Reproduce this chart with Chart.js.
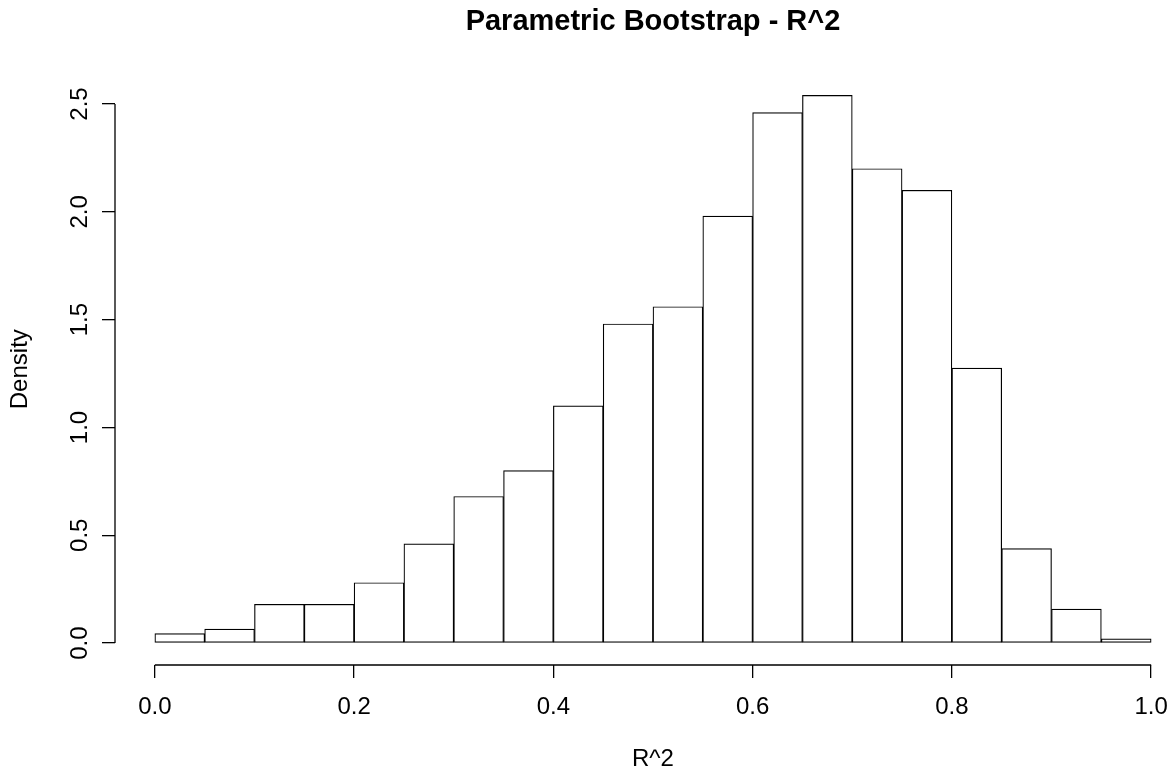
<!DOCTYPE html>
<html>
<head>
<meta charset="utf-8">
<script src="https://cdn.jsdelivr.net/npm/chart.js@4.4.1/dist/chart.umd.min.js"></script>
<style>
  html, body { margin: 0; padding: 0; background: #fff; overflow: hidden; }
  #wrap { width: 1200px; height: 780px; }
</style>
</head>
<body>
<div id="wrap"><canvas id="histChart" width="1200" height="780"></canvas></div>
<script>
// histogram bins (R^2), width 0.05
const binStarts = [0.00, 0.05, 0.10, 0.15, 0.20, 0.25, 0.30, 0.35, 0.40, 0.45,
                   0.50, 0.55, 0.60, 0.65, 0.70, 0.75, 0.80, 0.85, 0.90, 0.95];
const binWidth = 0.05;
const density = [0.044, 0.065, 0.18, 0.18, 0.28, 0.46, 0.68, 0.80, 1.10, 1.48,
                 1.56, 1.98, 2.46, 2.54, 2.20, 2.10, 1.275, 0.438, 0.158, 0.02];
const xTicks = [0.0, 0.2, 0.4, 0.6, 0.8, 1.0];
const yTicks = [0.0, 0.5, 1.0, 1.5, 2.0, 2.5];

const FONT = "'Liberation Sans', Arial, Helvetica, sans-serif";

// R-style detached axis lines, only between first and last tick
const rAxes = {
    id: 'rAxes',
    afterDraw(chart) {
        const { ctx, chartArea, scales: { x, y } } = chart;
        ctx.save();
        ctx.strokeStyle = '#000';
        ctx.lineWidth = 1.3;
        ctx.beginPath();
        ctx.moveTo(x.getPixelForValue(xTicks[0]), chartArea.bottom);
        ctx.lineTo(x.getPixelForValue(xTicks[xTicks.length - 1]), chartArea.bottom);
        ctx.moveTo(chartArea.left, y.getPixelForValue(yTicks[0]));
        ctx.lineTo(chartArea.left, y.getPixelForValue(yTicks[yTicks.length - 1]));
        ctx.stroke();
        ctx.restore();
    }
};

const ctx = document.getElementById('histChart').getContext('2d');
new Chart(ctx, {
    type: 'bar',
    data: {
        datasets: [{
            label: 'Density',
            data: binStarts.map((b, i) => ({ x: b + binWidth / 2, y: density[i] })),
            backgroundColor: '#ffffff',
            borderColor: '#000000',
            borderWidth: 1.2,
            borderSkipped: false,
            barPercentage: 1.0,
            categoryPercentage: 1.0
        }]
    },
    options: {
        responsive: false,
        animation: false,
        layout: { padding: { left: 0, right: 9, top: 0, bottom: 0 } },
        plugins: {
            legend: { display: false },
            tooltip: { enabled: false },
            title: {
                display: true,
                fullSize: false,
                text: 'Parametric Bootstrap - R^2',
                color: '#000',
                font: { family: FONT, size: 29, weight: 'bold', lineHeight: 1.2 },
                padding: { top: 5, bottom: 33.6 }
            }
        },
        scales: {
            x: {
                type: 'linear',
                min: -0.04,
                max: 1.04,
                offset: false,
                afterBuildTicks: (scale) => { scale.ticks = xTicks.map(v => ({ value: v })); },
                afterFit: (scale) => { scale.height = 115; },
                ticks: {
                    color: '#000',
                    font: { family: FONT, size: 24 },
                    padding: 15,
                    maxRotation: 0,
                    callback: (v) => Number(v).toFixed(1)
                },
                grid: {
                    offset: false,
                    drawOnChartArea: false,
                    drawTicks: true,
                    tickLength: 13,
                    color: '#000',
                    lineWidth: 1.3
                },
                border: { display: false },
                title: {
                    display: true,
                    text: 'R^2',
                    color: '#000',
                    font: { family: FONT, size: 24, lineHeight: 1.2 },
                    padding: { bottom: 6 }
                }
            },
            y: {
                type: 'linear',
                min: -0.1016,
                max: 2.642,
                afterBuildTicks: (scale) => { scale.ticks = yTicks.map(v => ({ value: v })); },
                afterFit: (scale) => { scale.width = 115; },
                ticks: {
                    color: '#000',
                    font: { family: FONT, size: 24 },
                    padding: 5,
                    minRotation: 90,
                    maxRotation: 90,
                    crossAlign: 'center',
                    callback: (v) => Number(v).toFixed(1)
                },
                grid: {
                    drawOnChartArea: false,
                    drawTicks: true,
                    tickLength: 13,
                    color: '#000',
                    lineWidth: 1.3
                },
                border: { display: false },
                title: {
                    display: true,
                    text: 'Density',
                    color: '#000',
                    font: { family: FONT, size: 24, lineHeight: 1.2 },
                    padding: { top: 6 }
                }
            }
        }
    },
    plugins: [rAxes]
});
</script>
</body>
</html>
